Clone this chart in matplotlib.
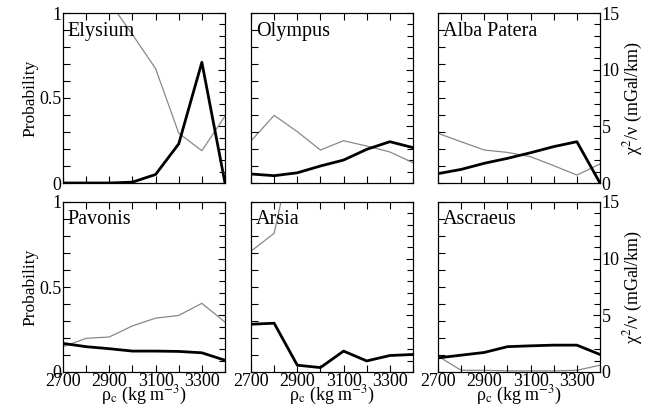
import numpy as np
import matplotlib
matplotlib.use('Agg')
import matplotlib.pyplot as plt
from matplotlib.ticker import MultipleLocator, FixedLocator

plt.rcParams['font.family'] = ['Liberation Serif', 'DejaVu Serif']
plt.rcParams['mathtext.fontset'] = 'stix'

## data
rho = [2700, 2800, 2900, 3000, 3100, 3200, 3300, 3400]
names = ['Elysium', 'Olympus', 'Alba Patera', 'Pavonis', 'Arsia', 'Ascraeus']

# probability (thick black, left axis)
prob_elysium = [0.0, 0.0, 0.0, 0.005, 0.05, 0.23, 0.71, 0.0]
prob_olympus = [0.053, 0.043, 0.06, 0.10, 0.135, 0.198, 0.243, 0.208]
prob_alba = [0.055, 0.08, 0.116, 0.145, 0.178, 0.214, 0.243, 0.0]
prob_pavonis = [0.168, 0.149, 0.137, 0.123, 0.123, 0.121, 0.113, 0.069]
prob_arsia = [0.281, 0.287, 0.04, 0.026, 0.123, 0.065, 0.097, 0.103]
prob_ascraeus = [0.083, 0.099, 0.115, 0.149, 0.154, 0.158, 0.158, 0.103]

# chi^2/nu (thin gray, right axis)
chi_elysium = [25.0, 20.0, 16.0, 13.1, 10.1, 4.4, 2.85, 5.9]
chi_olympus = [3.7, 5.97, 4.53, 2.91, 3.73, 3.26, 2.74, 1.79]
chi_alba = [4.38, 3.64, 2.91, 2.7, 2.32, 1.53, 0.7, 1.68]
chi_pavonis = [2.23, 2.97, 3.09, 4.07, 4.75, 4.99, 6.06, 4.4]
chi_arsia = [10.66, 12.24, 21.6, 24.0, 23.0, 22.0, 21.0, 20.0]
chi_ascraeus = [1.4, 0.15, 0.15, 0.1, 0.1, 0.1, 0.15, 0.6]

probs = [prob_elysium, prob_olympus, prob_alba, prob_pavonis, prob_arsia, prob_ascraeus]
chis = [chi_elysium, chi_olympus, chi_alba, chi_pavonis, chi_arsia, chi_ascraeus]

## layout
fig = plt.figure(figsize=(6.72, 4.12), dpi=100)
lefts = [63/672, 251/672, 438/672]
bottoms = [(412-183)/412, (412-372)/412]
w = 162/672; h = 170/412

for i in range(6):
    r, c = divmod(i, 3)
    ax = fig.add_axes([lefts[c], bottoms[r], w, h])
    tw = ax.twinx()
    ax.set_zorder(tw.get_zorder()+1)
    ax.patch.set_visible(False)

    tw.plot(rho, chis[i], color='#888888', lw=0.9)
    ax.plot(rho, probs[i], color='black', lw=2.0)

    ax.set_xlim(2700, 3400)
    ax.set_ylim(0, 1)
    tw.set_ylim(0, 15)

    ax.xaxis.set_major_locator(FixedLocator([2700, 2900, 3100, 3300]))
    ax.xaxis.set_minor_locator(MultipleLocator(100))
    ax.yaxis.set_major_locator(FixedLocator([0, 0.5, 1]))
    ax.yaxis.set_minor_locator(MultipleLocator(0.1))
    tw.yaxis.set_major_locator(MultipleLocator(5))
    tw.yaxis.set_minor_locator(MultipleLocator(1))

    ax.tick_params(which='both', direction='in', top=True, right=False, labelsize=13)
    ax.tick_params(which='major', length=5, width=0.8)
    ax.tick_params(which='minor', length=5, width=0.8)
    tw.tick_params(which='both', direction='in', labelsize=13)
    tw.tick_params(which='major', length=5, width=0.8)
    tw.tick_params(which='minor', length=4, width=0.8)
    ax.tick_params(axis='y', pad=1)
    tw.tick_params(axis='y', pad=1)

    ax.set_yticklabels(['0', '0.5', '1'])
    if c != 0:
        ax.set_yticklabels([])
    else:
        ax.set_ylabel('Probability', fontsize=12.5, labelpad=1)
    if c != 2:
        tw.set_yticklabels([])
    else:
        tw.set_ylabel('χ$^2$/ν (mGal/km)', fontsize=13, labelpad=2)
    if r == 0:
        ax.set_xticklabels([])
    else:
        ax.tick_params(axis='x', pad=1)
        ax.set_xlabel('ρ$_\\mathrm{c}$ (kg m$^{-3}$)', fontsize=13, labelpad=-5)

    ax.text(0.03, 0.95, names[i], transform=ax.transAxes, fontsize=14.5,
            ha='left', va='top')

fig.savefig('out.png', dpi=100)
